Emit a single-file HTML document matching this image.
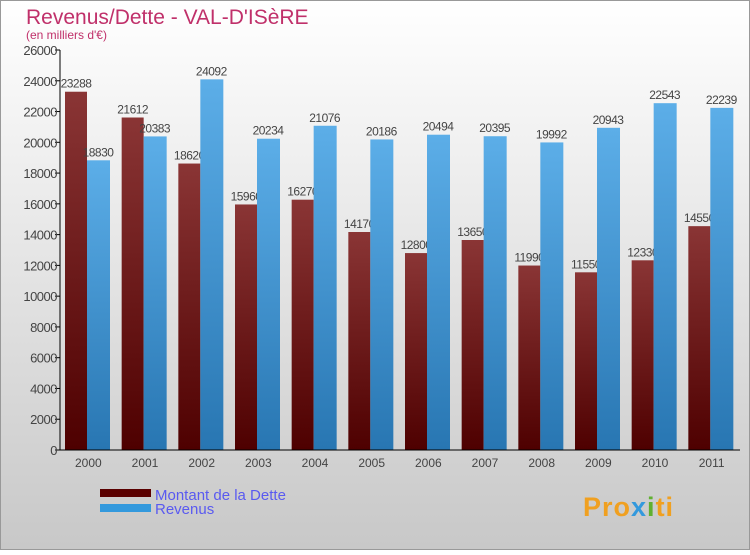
<!DOCTYPE html>
<html><head><meta charset="utf-8"><style>
html,body{margin:0;padding:0}
body{width:750px;height:550px;overflow:hidden;font-family:"Liberation Sans",sans-serif}
</style></head><body>
<svg width="750" height="550" xmlns="http://www.w3.org/2000/svg" id="svg">
<defs>
<linearGradient id="bg" x1="0" y1="0" x2="0" y2="1"><stop offset="0" stop-color="#ffffff"/><stop offset="1" stop-color="#c8c8c8"/></linearGradient>
<linearGradient id="gr" x1="0" y1="0" x2="0" y2="1"><stop offset="0" stop-color="#8a3535"/><stop offset="1" stop-color="#4e0000"/></linearGradient>
<linearGradient id="gb" x1="0" y1="0" x2="0" y2="1"><stop offset="0" stop-color="#5caee8"/><stop offset="1" stop-color="#2876b2"/></linearGradient>
</defs>
<rect x="0.5" y="0.5" width="749" height="549" fill="url(#bg)" stroke="#999"/>
<text x="26" y="24" font-size="21" fill="#c0306a">Revenus/Dette - VAL-D'ISèRE</text>
<text x="26" y="39" font-size="12" fill="#c0306a">(en milliers d'€)</text>
<g id="plot"></g>
<rect x="100" y="489" width="51" height="8" fill="#5a0000"/>
<text x="155" y="500" font-size="15" fill="#5a5af0">Montant de la Dette</text>
<rect x="100" y="504" width="51" height="8" fill="#3399dd"/>
<text x="155" y="514" font-size="15" fill="#5a5af0">Revenus</text>
<text x="583" y="516" font-size="27" font-weight="bold" fill="#f0a020" letter-spacing="1">Pro<tspan fill="#3399dd">x</tspan><tspan fill="#60b030">i</tspan>ti</text>
</svg>
<script>
const years=["2000","2001","2002","2003","2004","2005","2006","2007","2008","2009","2010","2011"];
const dette=[23288,21612,18620,15960,16270,14170,12800,13650,11990,11550,12330,14550];
const revenus=[18830,20383,24092,20234,21076,20186,20494,20395,19992,20943,22543,22239];
const ticks=[0,2000,4000,6000,8000,10000,12000,14000,16000,18000,20000,22000,24000,26000];
const NS="http://www.w3.org/2000/svg",g=document.getElementById('plot');
const x0=60,x1=740,yb=450,yt=50,max=26000,gw=(x1-x0)/years.length;
const y=v=>yb-v*(yb-yt)/max;
function el(t,a,txt){const e=document.createElementNS(NS,t);for(const k in a)e.setAttribute(k,a[k]);if(txt!==undefined)e.textContent=txt;g.appendChild(e);return e;}
ticks.forEach(t=>{
 const l=el('line',{x1:x0-5,x2:x0,y1:y(t),y2:y(t),stroke:'#000'});
 
 
 const tx=el('text',{x:x0-3,y:y(t)+5,'font-size':13,'text-anchor':'end',fill:'#444','letter-spacing':'-0.5'},t);
 
 
});
years.forEach((yr,i)=>{
 const gx=x0+i*gw;
 const r=el('rect',{x:gx+5,y:y(dette[i]),width:22,height:yb-y(dette[i]),fill:'url(#gr)'});
 
 
 const rl=el('text',{x:gx+16,y:y(dette[i])-4,'font-size':12,'text-anchor':'middle',fill:'#444','letter-spacing':'-0.5'},dette[i]);
 
 
});
years.forEach((yr,i)=>{
 const gx=x0+i*gw;
 const b=el('rect',{x:gx+27,y:y(revenus[i]),width:23,height:yb-y(revenus[i]),fill:'url(#gb)'});
 
 
 const bl=el('text',{x:gx+38,y:y(revenus[i])-4,'font-size':12,'text-anchor':'middle',fill:'#444','letter-spacing':'-0.5'},revenus[i]);
 
 
 const xl=el('text',{x:gx+gw/2,y:467,'font-size':12,'text-anchor':'middle',fill:'#444'},yr);
 
 
});
const ya=el('line',{x1:x0,x2:x0,y1:yt,y2:yb,stroke:'#000'});


const xa=el('line',{x1:x0,x2:x1,y1:yb,y2:yb,stroke:'#000'});


</script>
</body></html>
